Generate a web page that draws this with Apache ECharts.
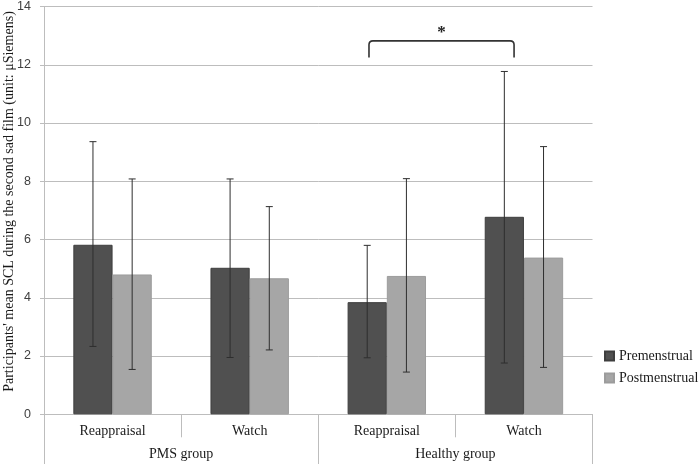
<!DOCTYPE html>
<html>
<head>
<meta charset="utf-8">
<script src="https://cdn.jsdelivr.net/npm/echarts@6/dist/echarts.min.js"></script>
<style>
html,body{margin:0;padding:0;background:#fff;}
#chart{width:700px;height:464px;}
</style>
</head>
<body>
<div id="chart"></div>
<script>
// ---- data ----
var conditions = ['Reappraisal', 'Watch', 'Reappraisal', 'Watch'];
var groups = ['PMS group', 'Healthy group'];
var seriesNames = ['Premenstrual', 'Postmenstrual'];
var preMean = [5.82, 5.03, 3.85, 6.78];
var postMean = [4.80, 4.67, 4.75, 5.38];
var preLow = [2.33, 1.95, 1.94, 1.76];
var preHigh = [9.36, 8.08, 5.80, 11.77];
var postLow = [1.54, 2.21, 1.45, 1.61];
var postHigh = [8.08, 7.13, 8.09, 9.19];
var yTicks = [0, 2, 4, 6, 8, 10, 12, 14];
var significance = {from: 2, to: 3, label: '*'};

var chart = echarts.init(document.getElementById('chart'), null, {renderer: 'canvas'});
var serif = '"Liberation Serif", "Times New Roman", serif';
var BAR_FRAC = 0.286;

function errData(low, high, sign) {
  return low.map(function (l, i) { return [i, l, high[i], sign]; });
}
function renderErr(params, api) {
  var cat = api.value(0), lo = api.value(1), hi = api.value(2), sign = api.value(3);
  var catW = api.size([1, 0])[0];
  var pHi = api.coord([cat, hi]);
  var pLo = api.coord([cat, lo]);
  var x = pHi[0] + sign * catW * BAR_FRAC / 2;
  var cap = 3.5;
  var style = {stroke: '#2e2e2e', lineWidth: 1};
  return {
    type: 'group',
    children: [
      {type: 'line', shape: {x1: x, y1: pHi[1], x2: x, y2: pLo[1]}, style: style},
      {type: 'line', shape: {x1: x - cap, y1: pHi[1], x2: x + cap, y2: pHi[1]}, style: style},
      {type: 'line', shape: {x1: x - cap, y1: pLo[1], x2: x + cap, y2: pLo[1]}, style: style}
    ]
  };
}
function renderBracket(params, api) {
  var a = api.value(0), b = api.value(1);
  var catW = api.size([1, 0])[0];
  var yTop = api.coord([a, 12.82])[1];
  var yBot = api.coord([a, 12.25])[1];
  var xl = api.coord([a, 0])[0] - 0.13 * catW;
  var xr = api.coord([b, 0])[0] - 0.072 * catW;
  var r = 4;
  var d = 'M' + xl + ' ' + yBot + ' L' + xl + ' ' + (yTop + r) +
          ' Q' + xl + ' ' + yTop + ' ' + (xl + r) + ' ' + yTop +
          ' L' + (xr - r) + ' ' + yTop +
          ' Q' + xr + ' ' + yTop + ' ' + xr + ' ' + (yTop + r) +
          ' L' + xr + ' ' + yBot;
  var yStar = api.coord([a, 13.12])[1];
  return {
    type: 'group',
    children: [
      {type: 'path', shape: {pathData: d}, style: {stroke: '#333', lineWidth: 1.6, fill: null}},
      {type: 'text', x: (xl + xr) / 2, y: yStar,
       style: {text: significance.label, fill: '#222',
               font: 'bold 17px ' + serif, align: 'center', verticalAlign: 'middle'}}
    ]
  };
}

var option = {
  animation: false,
  backgroundColor: '#ffffff',
  grid: {left: 44, right: 107.5, top: 5.5, bottom: 49.7, containLabel: false},
  legend: {
    data: seriesNames,
    orient: 'vertical',
    left: 604,
    top: 349,
    padding: 0,
    itemWidth: 9,
    itemHeight: 9,
    itemGap: 8,
    icon: 'rect',
    textStyle: {fontFamily: serif, fontSize: 14, color: '#1a1a1a'}
  },
  xAxis: [
    {
      type: 'category',
      data: conditions,
      position: 'bottom',
      axisLine: {show: true, lineStyle: {color: '#bdbdbd', width: 1}},
      axisTick: {show: true, interval: 0, length: 23, lineStyle: {color: '#bdbdbd', width: 1}},
      axisLabel: {interval: 0, margin: 10, fontFamily: serif, fontSize: 14, color: '#1a1a1a'},
      splitLine: {show: false}
    },
    {
      type: 'category',
      data: groups,
      position: 'bottom',
      axisLine: {show: false},
      axisTick: {show: true, interval: 0, length: 50, lineStyle: {color: '#bdbdbd', width: 1}},
      axisLabel: {interval: 0, margin: 33, fontFamily: serif, fontSize: 14, color: '#1a1a1a'},
      splitLine: {show: false}
    }
  ],
  yAxis: {
    type: 'value',
    min: yTicks[0],
    max: yTicks[yTicks.length - 1],
    interval: yTicks[1] - yTicks[0],
    axisLine: {show: true, lineStyle: {color: '#bdbdbd', width: 1}},
    axisTick: {show: true, length: 4, lineStyle: {color: '#bdbdbd'}},
    axisLabel: {margin: 13, fontFamily: '"Liberation Sans", Arial, sans-serif', fontSize: 12.5, color: '#404040'},
    splitLine: {show: true, lineStyle: {color: '#bdbdbd', width: 1}}
  },
  graphic: [{
    type: 'text',
    x: 9, y: 201.5,
    rotation: Math.PI / 2,
    style: {
      text: "Participants' mean SCL during the second sad film (unit: μSiemens)",
      font: '14px ' + serif, fill: '#1a1a1a', align: 'center', verticalAlign: 'middle'
    }
  }],
  series: [
    {
      name: seriesNames[0], type: 'bar', xAxisIndex: 0, data: preMean,
      barWidth: (BAR_FRAC * 100) + '%', barGap: '0%',
      itemStyle: {color: '#505050', borderColor: '#3e3e3e', borderWidth: 1}
    },
    {
      name: seriesNames[1], type: 'bar', xAxisIndex: 0, data: postMean,
      barWidth: (BAR_FRAC * 100) + '%', barGap: '0%',
      itemStyle: {color: '#a6a6a6', borderColor: '#9c9c9c', borderWidth: 1}
    },
    {type: 'custom', xAxisIndex: 0, renderItem: renderErr, data: errData(preLow, preHigh, -1), z: 5, silent: true},
    {type: 'custom', xAxisIndex: 0, renderItem: renderErr, data: errData(postLow, postHigh, 1), z: 5, silent: true},
    {type: 'custom', xAxisIndex: 0, renderItem: renderBracket,
     data: [[significance.from, significance.to]], z: 6, silent: true, clip: false}
  ]
};
chart.setOption(option);
</script>
</body>
</html>
